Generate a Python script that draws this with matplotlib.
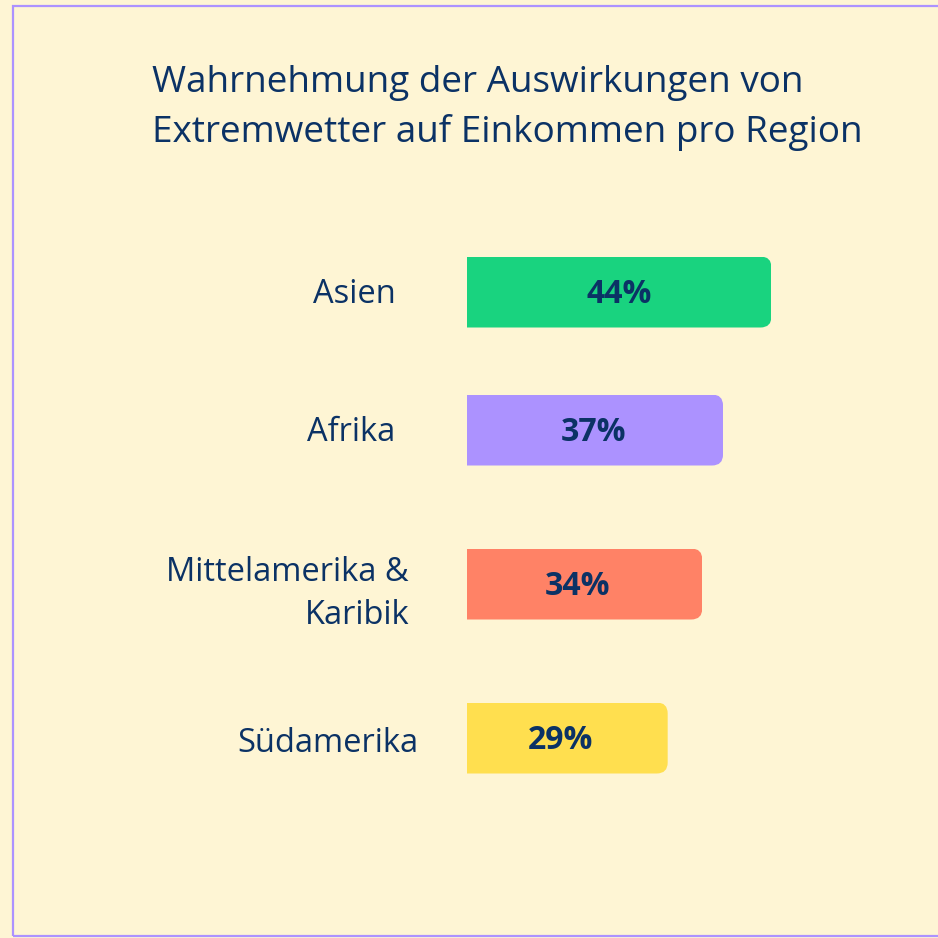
import matplotlib
matplotlib.use("Agg")
import matplotlib.pyplot as plt
from matplotlib.patches import FancyBboxPatch, Rectangle

regions = ["Asien", "Afrika", "Mittelamerika &\nKaribik", "Südamerika"]
values = [44, 37, 34, 29]
value_labels = ["44%", "37%", "34%", "29%"]
colors = ["#19D37F", "#AC92FF", "#FF8266", "#FFDF4F"]
title_lines = ["Wahrnehmung der Auswirkungen von",
               "Extremwetter auf Einkommen pro Region"]

# layout
W = H = 938
BG = "#FEF5D4"
NAVY = "#0B3265"
FONT = ["Open Sans", "DejaVu Sans"]
ypos = [0.92, 2.30, 3.84, 5.38]      # bar centres (1 unit = 100 px)
bar_h = 0.71
label_right_px = [396, 395, 409, 418]
label_dy_px = [0, 0, -8, -3]
value_dx_px = [0, -2, -7, -7]
title_baselines_px = [92, 142]

fig = plt.figure(figsize=(W / 100, H / 100), dpi=100)
fig.patch.set_facecolor(BG)

# border
fig.add_artist(Rectangle((13 / W, 1 - 936 / H), (W + 20 - 13) / W, (936 - 6) / H,
                         transform=fig.transFigure, fill=False,
                         edgecolor="#AC92FF", linewidth=1.6, clip_on=False))

# axes: x=0 at px 467, 6.92 px per %, y from px 200 to 800
ax_left, ax_w = 467, 6.92 * 50
ax_top, ax_h = 200, 600
ax = fig.add_axes([ax_left / W, 1 - (ax_top + ax_h) / H, ax_w / W, ax_h / H])
ax.set_xlim(0, 50)
ax.set_ylim(6, 0)
ax.axis("off")
ax.patch.set_alpha(0)

bars = ax.barh(ypos, values, height=bar_h, color=colors, edgecolor="none")
px_x = ax_w / 50
px_y = ax_h / 6
r_px = 11
for b in bars:
    x0, y0 = b.get_x(), b.get_y()
    w, h = b.get_width(), b.get_height()
    clip = FancyBboxPatch((x0 - 5, y0), w + 5, h,
                          boxstyle=f"round,pad=0,rounding_size={r_px / px_x}",
                          mutation_aspect=px_x / px_y,
                          transform=ax.transData, facecolor="none", edgecolor="none")
    ax.add_patch(clip)
    b.set_clip_path(clip)

for y, v, t, dx in zip(ypos, values, value_labels, value_dx_px):
    ax.annotate(t, xy=(v / 2, y), xycoords="data",
                xytext=(dx, -2), textcoords="offset pixels",
                ha="center", va="center", fontsize=23,
                fontweight="bold", color=NAVY, family=FONT)

for y, lab, rx, dy in zip(ypos, regions, label_right_px, label_dy_px):
    ax.annotate(lab, xy=(0, y), xycoords="data",
                xytext=(rx - ax_left, dy - 2), textcoords="offset pixels",
                ha="right", va="center", fontsize=23.5, color=NAVY,
                family=FONT, linespacing=1.4, multialignment="right")

for line, bl in zip(title_lines, title_baselines_px):
    fig.text(152 / W, 1 - bl / H, line, ha="left", va="baseline",
             fontsize=26.6, color=NAVY, family=FONT)

fig.savefig("out.png", dpi=100, facecolor=BG)
